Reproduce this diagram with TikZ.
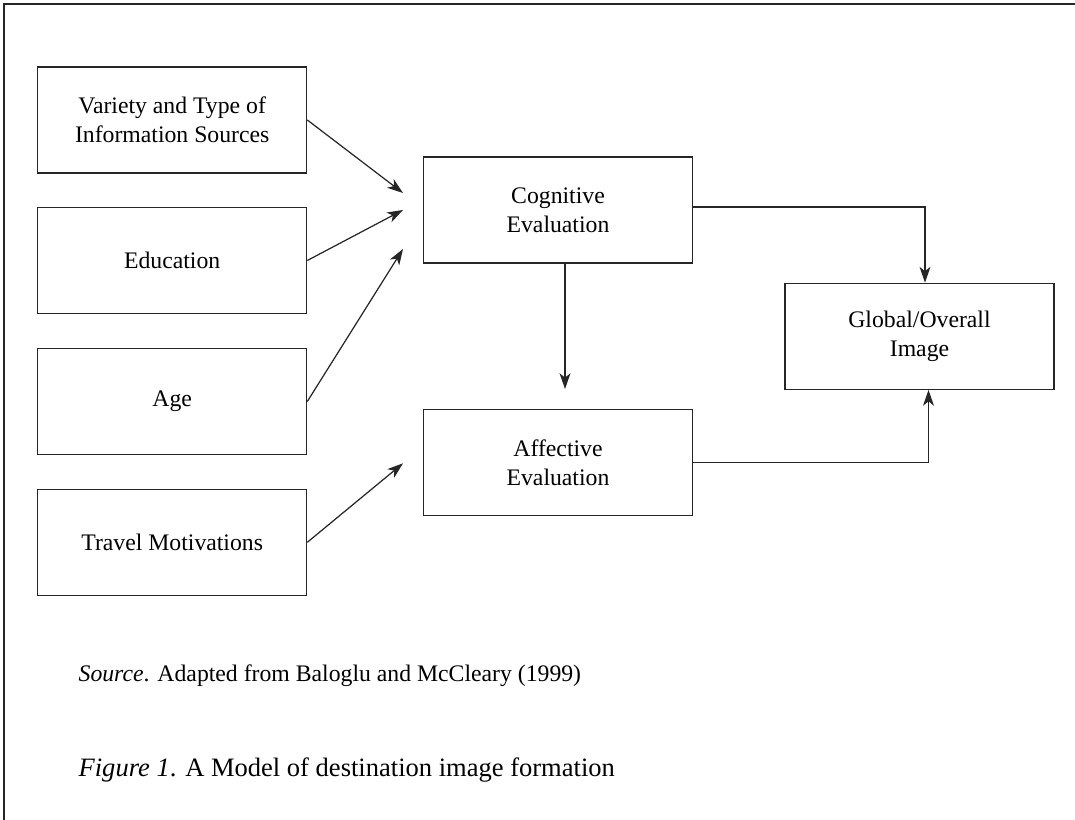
\documentclass[tikz,border=0pt]{standalone}
\usepackage{fontspec}
\setmainfont{Liberation Serif}
\usepackage{tikz}
\usetikzlibrary{arrows.meta}
\usepackage{xcolor}
\tikzstyle{arrow} = [line width=0.7pt,draw=black!85,-{Stealth[length=9pt,width=6.2pt,inset=2.5pt]}]

\begin{document}
\begin{tikzpicture}
        [
            box/.style={rectangle,draw=black!85,line width=0.7pt, minimum width=5.38cm, minimum height=2.12cm, align=center, font=\fontsize{13.5}{16.7}\selectfont},
            caption/.style={anchor=base west, inner sep=0pt},
        ]
    \useasboundingbox (0,0) rectangle (21.5,16.4);
    \draw[line width=0.9pt,black!85] (0.08,-0.5) |- (22,16.32);

    \node[box] (info) at (3.444,14.0){Variety and Type of\\Information Sources};
    \node[box] (edu) at (3.444,11.19){Education};
    \node[box] (age) at (3.444,8.37){Age};
    \node[box] (motiv) at (3.444,5.554){Travel Motivations};

    \node[box] (cog) at (11.16,12.2){Cognitive\\Evaluation};
    \node[box] (aff) at (11.16,7.146){Affective\\Evaluation};
    \node[box] (glob) at (18.39,9.674){Global/Overall\\Image};

    \coordinate (in1) at (8.06,12.54);
    \coordinate (in2) at (8.06,12.2);
    \coordinate (in3) at (8.06,11.42);
    \coordinate (in4) at (8.06,7.134);

    \draw[arrow] (info.east) -- (in1);
    \draw[arrow] (edu.east) -- (in2);
    \draw[arrow] (age.east) -- (in3);
    \draw[arrow] (motiv.east) -- (in4);

    \draw[arrow] ([xshift=0.14cm]cog.south) -- ([xshift=0.14cm,yshift=0.4cm]aff.north);
    \draw[arrow] ([yshift=0.06cm]cog.east) -| ([xshift=0.11cm]glob.north);
    \draw[arrow] (aff.east) -| ([xshift=0.18cm]glob.south);

    \node[caption,font=\fontsize{13.5}{16.7}\selectfont] (src) at (1.566,2.766){\textit{Source}. Adapted from Baloglu and McCleary (1999)};
    \node[caption,font=\fontsize{15.1}{18}\selectfont] (fig) at (1.566,0.866){\textit{Figure 1}. A Model of destination image formation};
\end{tikzpicture}
\end{document}
